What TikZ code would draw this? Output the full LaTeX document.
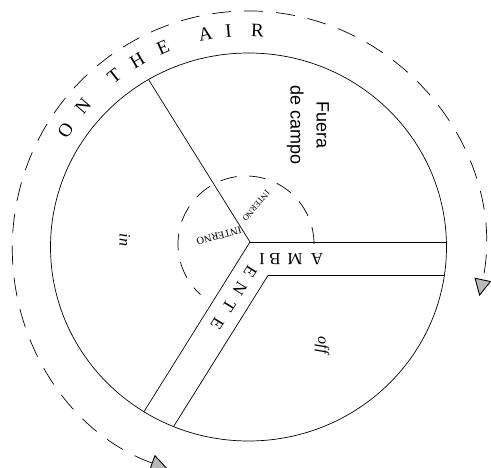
\documentclass[tikz,border=0pt]{standalone}
\usepackage{fontspec}
\setmainfont{Liberation Serif}
\newfontfamily\sansf{Liberation Sans}
\usetikzlibrary{arrows.meta,calc}
\tikzset{gtri/.tip={Triangle[length=17pt,width=17pt,fill=gray!55,line width=0.9pt]}}
\begin{document}
\begin{tikzpicture}[x=1pt,y=1pt,line width=0.7pt,
  outerdash/.style={dash pattern=on 19pt off 13pt},
  innerdash/.style={dash pattern=on 17pt off 12pt},
  airl/.style={inner sep=0pt,font=\fontsize{19}{19}\selectfont},
  ambl/.style={inner sep=0pt,font=\fontsize{17}{17}\selectfont},
  zone/.style={inner sep=0pt,font=\itshape\fontsize{16}{16}\selectfont,rotate=-90}]
\useasboundingbox (0,0) rectangle (491,-468);
\coordinate (C) at (248.5,-247);
\coordinate (H) at (250,-242);
\coordinate (P) at (268.3,-275);
\coordinate (IC) at (246,-244);
\coordinate (aend) at ($(H)+(0:300)$);
\coordinate (bend) at ($(H)+(238:300)$);
\coordinate (cend) at ($(H)+(122:300)$);
\coordinate (a2end) at ($(P)+(0:300)$);
\coordinate (b2end) at ($(P)+(238:300)$);
% main circle
\draw (C) ellipse [x radius=198, y radius=194];
\begin{scope}
  \clip (C) ellipse [x radius=198, y radius=194];
  \draw (H) -- (aend);
  \draw (H) -- (bend);
  \draw (H) -- (cend);
  \draw (P) -- (a2end);
  \draw (P) -- (b2end);
\end{scope}
% inner dashed arc
\coordinate (istart) at ($(IC)+(0:68)$);
\draw[innerdash] (istart) arc[start angle=0, end angle=228, radius=68];
% outer dashed arc with arrows
\coordinate (ostart) at ($(C)+(250:236)$);
\draw[outerdash,{gtri}-{gtri}] (ostart) arc[start angle=250, end angle=-12, radius=236];
% ON THE AIR
\foreach \ch/\a in {O/147.4, N/139.7, T/128.2, H/120.8, E/113.2, A/101.5, I/95.3, R/87.6}
  \node[airl, rotate=\a-90] (air\ch) at ($(C)+(\a:217)$) {\ch};
% AMBI
\foreach \ch/\x in {A/317, M/295, B/275, I/262}
  \node[ambl, rotate=180] (amb\ch) at (\x,-259) {\ch};
% ENTE
\foreach \ch/\t/\k in {E/25/1, N/45/2, T/65/3, E/87/4}
  \node[ambl, rotate=238] (ent\k) at ($(H)+(238:\t)+(-32:16)$) {\ch};
% INTERNO
\node[inner sep=0pt, font=\fontsize{8.5}{8.5}\selectfont, rotate=230] (int1) at (256,-206) {INTERNO};
\node[inner sep=0pt, font=\fontsize{10.5}{10.5}\selectfont, rotate=195] (int2) at (219,-236) {INTERNO};
% zones
\node[zone] (in) at (125,-240) {in};
\node[zone] (off) at (322,-345) {off};
\node[inner sep=0pt, rotate=-90, align=center, font=\sansf\fontsize{18}{26}\selectfont] (fuera) at (308,-125) {Fuera\\de campo};
\end{tikzpicture}
\end{document}
